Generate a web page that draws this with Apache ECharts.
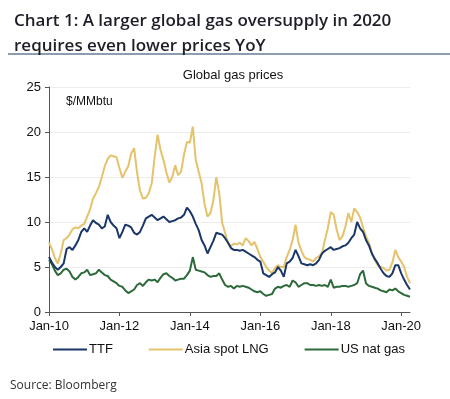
<!DOCTYPE html>
<html>
<head>
<meta charset="utf-8">
<script src="https://cdn.jsdelivr.net/npm/echarts@6/dist/echarts.min.js"></script>
<style>
  html, body { margin: 0; padding: 0; background: #fff; }
  #chart { width: 450px; height: 399px; }
</style>
</head>
<body>
<div id="chart"></div>
<script>
// monthly, Jan 2010 .. Apr 2020
var startYear = 2010;
var monthNames = ['Jan','Feb','Mar','Apr','May','Jun','Jul','Aug','Sep','Oct','Nov','Dec'];

var ttf = [
  6.1, 5.5, 5.0, 4.7, 5.0, 5.4, 7.0, 7.2, 6.9, 7.4, 8.0, 8.9,
  9.3, 8.9, 9.6, 10.2, 9.9, 9.7, 9.3, 9.5, 10.8, 10.0, 9.6, 9.3,
  8.2, 8.9, 9.7, 9.6, 9.4, 8.8, 8.6, 8.9, 9.6, 10.4, 10.6, 10.8,
  10.5, 10.2, 10.4, 10.6, 10.3, 10.0, 10.1, 10.2, 10.4, 10.5, 10.8, 11.6,
  11.2, 10.6, 9.8, 9.1, 8.0, 7.4, 6.5, 7.2, 7.9, 8.8, 8.7, 8.6,
  8.2, 7.7, 7.1, 6.9, 6.9, 6.8, 6.9, 6.7, 6.5, 6.3, 6.1, 5.8,
  5.6, 4.3, 4.1, 3.9, 4.2, 4.4, 5.0, 4.6, 3.9, 5.4, 5.6, 6.0,
  6.9, 6.2, 5.4, 5.3, 5.2, 5.3, 5.2, 5.4, 5.8, 6.5, 6.8, 7.0,
  7.2, 6.9, 7.0, 7.1, 7.3, 7.4, 7.7, 8.2, 8.6, 10.0, 9.3, 8.9,
  8.0, 7.4, 6.5, 5.9, 5.4, 4.8, 4.3, 4.0, 3.9, 4.3, 5.2, 5.2,
  4.3, 3.6, 3.0, 2.5
];

var asiaLng = [
  7.7, 7.0, 6.0, 5.4, 6.5, 8.0, 8.2, 8.6, 9.2, 9.4, 9.3, 9.6,
  9.8, 10.6, 11.4, 12.6, 13.2, 13.9, 15.0, 16.2, 17.0, 17.4, 17.3, 17.2,
  16.0, 14.9, 15.6, 16.2, 17.6, 18.2, 15.5, 13.5, 12.6, 12.7, 13.2, 14.3,
  17.2, 19.7, 18.0, 16.9, 15.5, 14.4, 15.0, 16.3, 15.2, 15.6, 17.5, 18.9,
  18.8, 20.6, 16.9, 15.6, 14.3, 12.0, 10.6, 11.0, 12.4, 15.0, 13.2, 9.9,
  8.8, 7.7, 7.3, 7.6, 7.5, 7.7, 7.4, 8.2, 7.9, 7.4, 7.8, 7.0,
  6.1, 5.6, 5.0, 4.6, 4.3, 4.9, 5.2, 5.0, 5.0, 6.1, 6.9, 8.0,
  9.7, 7.7, 6.8, 6.1, 5.9, 5.8, 5.6, 6.0, 6.2, 6.5, 8.0, 9.3,
  11.1, 10.8, 9.2, 8.0, 8.4, 9.5, 11.0, 10.0, 11.5, 11.1, 10.5, 9.4,
  8.4, 7.7, 6.6, 5.8, 5.2, 5.0, 4.9, 4.6, 4.7, 5.5, 6.9, 6.1,
  5.6, 5.0, 3.9, 3.2
];

var usGas = [
  5.8, 5.3, 4.6, 4.1, 4.3, 4.7, 4.8, 4.5, 3.9, 3.6, 3.9, 4.3,
  4.4, 4.7, 4.1, 4.2, 4.3, 4.7, 4.4, 4.1, 4.0, 3.6, 3.4, 3.2,
  2.9, 2.8, 2.4, 2.1, 2.3, 2.5, 3.0, 3.2, 2.9, 3.3, 3.6, 3.5,
  3.6, 3.3, 3.8, 4.2, 4.3, 4.0, 3.8, 3.5, 3.6, 3.7, 3.7, 4.1,
  4.6, 6.1, 4.7, 4.6, 4.5, 4.4, 4.1, 3.9, 4.0, 4.0, 4.3, 3.6,
  3.0, 2.8, 2.9, 2.6, 2.9, 2.8, 2.9, 2.8, 2.7, 2.5, 2.3, 2.2,
  2.3, 2.0, 1.8, 1.9, 2.0, 2.6, 2.8, 2.7, 2.9, 3.0, 2.8, 3.5,
  3.3, 2.8, 3.0, 3.2, 3.2, 3.0, 3.0, 2.9, 3.0, 2.9, 3.0, 2.8,
  3.6, 2.7, 2.8, 2.8, 2.9, 2.9, 2.8, 2.9, 3.0, 3.2, 4.2, 4.6,
  3.2, 2.9, 2.8, 2.7, 2.6, 2.4, 2.3, 2.2, 2.5, 2.4, 2.6, 2.3,
  2.1, 1.9, 1.8, 1.7
];

var tickLabels = ['Jan-10', 'Jan-12', 'Jan-14', 'Jan-16', 'Jan-18', 'Jan-20'];

var months = [];
for (var i = 0; i < ttf.length; i++) {
  var yr = startYear + Math.floor(i / 12);
  months.push(monthNames[i % 12] + '-' + String(yr).slice(2));
}

var chart = echarts.init(document.getElementById('chart'));
var font = '"Liberation Sans", Arial, sans-serif';

var option = {
  animation: false,
  backgroundColor: '#fff',
  title: {
    text: 'Chart 1: A larger global gas oversupply in 2020\nrequires even lower prices YoY',
    left: 9,
    top: 4,
    textStyle: {
      fontFamily: '"Open Sans", "Noto Sans", sans-serif',
      fontWeight: 600,
      fontSize: 17,
      lineHeight: 25,
      color: '#1e1e28'
    }
  },
  graphic: [
    { type: 'rect', shape: { x: 8, y: 53, width: 442, height: 2 }, style: { fill: '#8c9db0' } },
    { type: 'text', x: 233, y: 69, style: { text: 'Global gas prices', font: '13px ' + font, fill: '#111', textAlign: 'center' } },
    { type: 'text', x: 66, y: 96, style: { text: '$/MMbtu', font: '12px ' + font, fill: '#111' } },
    { type: 'text', x: 10, y: 380, style: { text: 'Source: Bloomberg', font: '12px "Open Sans", sans-serif', fill: '#333' } }
  ],
  legend: {
    left: 53,
    top: 343,
    padding: 0,
    itemWidth: 34,
    itemHeight: 2,
    itemGap: 36,
    icon: 'rect',
    textStyle: { fontFamily: font, fontSize: 13, color: '#111', padding: [0, 0, 0, -3] },
    data: ['TTF', 'Asia spot LNG', 'US nat gas']
  },
  grid: { left: 49, right: 40, top: 87, bottom: 87 },
  xAxis: {
    type: 'category',
    data: months,
    boundaryGap: false,
    axisLine: { lineStyle: { color: '#555', width: 1 } },
    axisTick: {
      length: 4,
      lineStyle: { color: '#555' },
      interval: function (idx) { return idx % 24 === 0; }
    },
    axisLabel: {
      margin: 8,
      fontFamily: font,
      fontSize: 13,
      color: '#111',
      interval: function (idx) { return idx % 24 === 0; },
      formatter: function (val, idx) { return tickLabels[idx / 24] || val; }
    },
    splitLine: { show: false }
  },
  yAxis: {
    type: 'value',
    min: 0,
    max: 25,
    interval: 5,
    axisLine: { show: true, lineStyle: { color: '#555', width: 1 } },
    axisTick: { show: true, length: 4, lineStyle: { color: '#555' } },
    axisLabel: { margin: 8, fontFamily: font, fontSize: 13, color: '#111' },
    splitLine: { lineStyle: { color: '#ececec', width: 1 } }
  },
  series: [
    {
      name: 'TTF', type: 'line', data: ttf, showSymbol: false, z: 4,
      lineStyle: { width: 2, color: '#1b3767' }, itemStyle: { color: '#1b3767' }
    },
    {
      name: 'Asia spot LNG', type: 'line', data: asiaLng, showSymbol: false, z: 3,
      lineStyle: { width: 2, color: '#e5c36c' }, itemStyle: { color: '#e5c36c' }
    },
    {
      name: 'US nat gas', type: 'line', data: usGas, showSymbol: false, z: 2,
      lineStyle: { width: 2, color: '#2d6a3a' }, itemStyle: { color: '#2d6a3a' }
    }
  ]
};

chart.setOption(option);
</script>
</body>
</html>
